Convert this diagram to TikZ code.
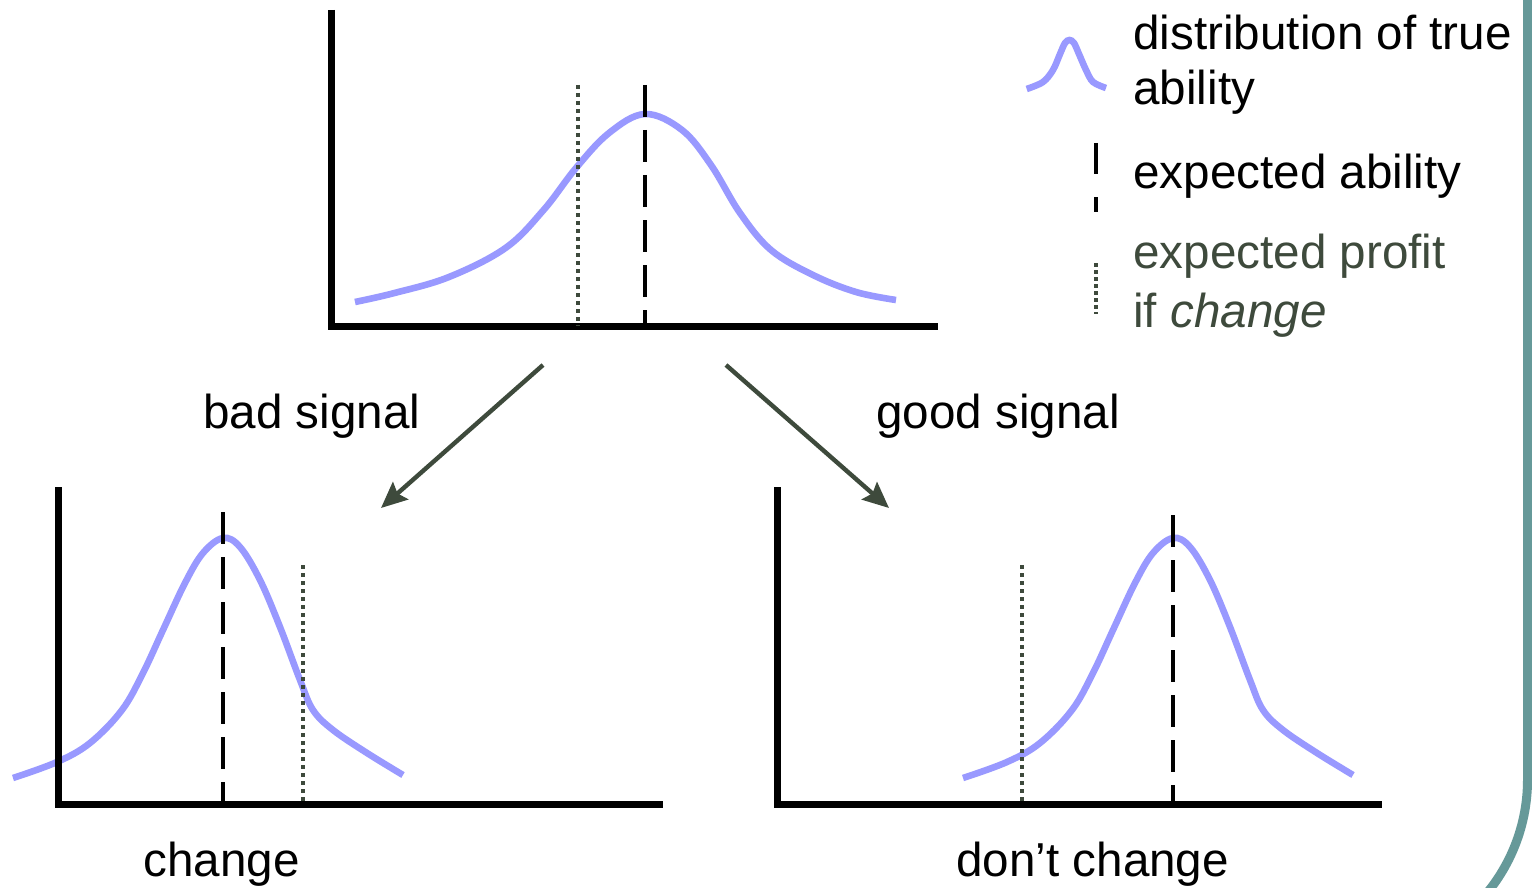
\documentclass[tikz,border=0pt]{standalone}
\usepackage{fontspec}
\setmainfont{Liberation Sans}
\usetikzlibrary{arrows.meta}
\definecolor{lav}{RGB}{153,153,255}
\definecolor{dkgreen}{RGB}{62,74,60}
\definecolor{teal2}{RGB}{102,153,153}
\tikzset{
  distcurve/.style={draw=lav, line width=3.3pt, line cap=butt},
  axisline/.style={draw=black, line width=3.5pt, line join=miter},
  meanline/.style={draw=black, line width=2pt, dash pattern=on 16pt off 6.5pt},
  profitline/.style={draw=dkgreen, line width=2pt, dash pattern=on 2pt off 2pt},
  sigarrow/.style={draw=dkgreen, line width=2.2pt, -{Stealth[length=13pt, width=11.5pt, inset=2pt]}},
  lbl/.style={anchor=base west, inner sep=0pt, font=\fontsize{23.8}{27.5}\selectfont},
}
\begin{document}
\begin{tikzpicture}[x=0.5pt, y=-0.5pt]
\useasboundingbox (0,0) rectangle (1532,888);
\clip (0,0) rectangle (1532,888);
\fill[white] (0,0) rectangle (1532,888);

% teal frame edge
\draw[teal2, line width=4.5pt] (1527.5,-10) -- (1527.5,780) .. controls (1527.5,829.2) and (1507,876.4) .. (1471,910);

% ---------- top chart ----------
\draw[axisline] (331,10) -- (331,326) -- (938,326);
\draw[distcurve, shift={(645,114)}] plot[smooth, tension=0.6] coordinates {
 (-290,188) (-250.5,179) (-196,163) (-139.5,134) (-101.4,96) (-69,54) (-36,19) (0,0)
 (37,16) (66,51) (95,99) (126,136) (168,161) (211,178) (251,186)};
\draw[profitline] (578,85) -- (578,326);
\draw[meanline] (645,85) -- (645,324);

% ---------- bottom-left chart ----------
\draw[distcurve, shift={(223,538)}] plot[smooth, tension=0.6] coordinates {
 (-210,240) (-166,224) (-133,205) (-101,172) (-80,135) (-60,92) (-38,45) (-20,15) (0,0)
 (17,9) (37,42) (57,89) (77,142) (90,172) (110,192) (144,215) (180,237)};
\draw[axisline] (58,487) -- (58,804) -- (663,804);
\draw[meanline] (223,512) -- (223,802);
\draw[profitline] (303,565) -- (303,804);

% ---------- bottom-right chart ----------
\draw[distcurve, shift={(1173,538)}] plot[smooth, tension=0.6] coordinates {
 (-210,240) (-166,224) (-133,205) (-101,172) (-80,135) (-60,92) (-38,45) (-20,15) (0,0)
 (17,9) (37,42) (57,89) (77,142) (90,172) (110,192) (144,215) (180,237)};
\draw[axisline] (777,487) -- (777,804) -- (1382,804);
\draw[meanline] (1173,515) -- (1173,802);
\draw[profitline] (1022,565) -- (1022,804);

% ---------- arrows ----------
\coordinate (badS) at (543,365);
\coordinate (badE) at (381,508);
\coordinate (goodS) at (726,365);
\coordinate (goodE) at (889,508);
\draw[sigarrow] (badS) -- (badE);
\draw[sigarrow] (goodS) -- (goodE);

% ---------- labels ----------
\node[lbl] (badlbl) at (203,428) {bad signal};
\node[lbl] (goodlbl) at (876,428) {good signal};
\node[lbl] (chlbl) at (143,876) {change};
\node[lbl] (dchlbl) at (956,876) {don’t change};

% ---------- legend ----------
\draw[distcurve] plot[smooth, tension=0.55] coordinates {
 (1026.7,89) (1043,82) (1053,70) (1060,54) (1065,43) (1069.5,40) (1074,43) (1079,54) (1086,70) (1093,82) (1106,88)};
\node[lbl] (legdist) at (1133,50) {\begin{tabular}[t]{@{}l@{}}distribution of true\\ ability\end{tabular}};
\draw[draw=black, line width=2pt, dash pattern=on 15.5pt off 11.5pt] (1096,143) -- (1096,212);
\node[lbl] (legexp) at (1133,189) {expected ability};
\draw[draw=dkgreen, line width=1.8pt, dash pattern=on 1.8pt off 1.7pt] (1096,263) -- (1096,314);
\node[lbl, text=dkgreen, font=\fontsize{23.8}{29.5}\selectfont] (legprof) at (1133,268) {\begin{tabular}[t]{@{}l@{}}expected profit\\ if \textit{change}\end{tabular}};
\end{tikzpicture}
\end{document}
